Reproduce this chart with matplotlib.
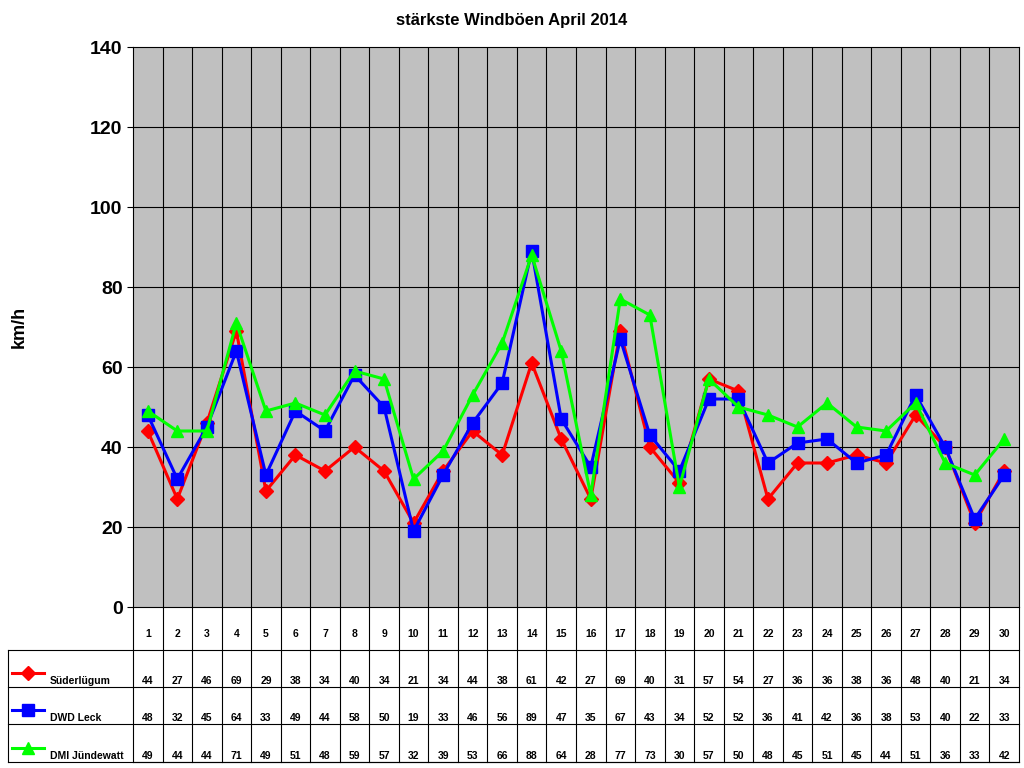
import matplotlib
matplotlib.use("Agg")
import matplotlib.pyplot as plt
import numpy as np
plt.rcParams['font.family'] = ['Liberation Sans', 'DejaVu Sans']

days = list(range(1, 31))
sued = [44,27,46,69,29,38,34,40,34,21,34,44,38,61,42,27,69,40,31,57,54,27,36,36,38,36,48,40,21,34]
leck = [48,32,45,64,33,49,44,58,50,19,33,46,56,89,47,35,67,43,34,52,52,36,41,42,36,38,53,40,22,33]
dmi  = [49,44,44,71,49,51,48,59,57,32,39,53,66,88,64,28,77,73,30,57,50,48,45,51,45,44,51,36,33,42]
series = [("Süderlügum", sued, "#FF0000", "D", 7),
          ("DWD Leck", leck, "#0000FF", "s", 8),
          ("DMI Jündewatt", dmi, "#00FF00", "^", 9)]

W, H = 1024, 768
fig = plt.figure(figsize=(W/100, H/100), dpi=100)
x0, x1, ytop, ybot = 133, 1019, 47, 607
ax = fig.add_axes([x0/W, 1-ybot/H, (x1-x0)/W, (ybot-ytop)/H])
ax.set_facecolor("#C0C0C0")
n = len(days)
ax.set_xlim(0.5, n+0.5)
ax.set_ylim(0, 140)
ax.set_yticks(range(0, 141, 20))
ax.tick_params(axis='y', labelsize=14, length=4)
for t in ax.get_yticklabels():
    t.set_fontweight('bold')
ax.set_xticks([])
for v in np.arange(1.5, n, 1):
    ax.axvline(v, color='black', lw=0.8, zorder=1)
for v in range(20, 140, 20):
    ax.axhline(v, color='black', lw=0.8, zorder=1)
for name, vals, c, m, ms in series:
    ax.plot(days, vals, color=c, marker=m, ms=ms, lw=2.2, zorder=3)
for s in ax.spines.values():
    s.set_color('black')
ax.set_ylabel("km/h", fontsize=13, fontweight='bold', labelpad=45)
fig.text(0.5, 1-20/H, "stärkste Windböen April 2014", ha='center', va='center',
         fontsize=12, fontweight='bold')

# data table
ov = fig.add_axes([0, 0, 1, 1])
ov.set_xlim(0, W); ov.set_ylim(H, 0); ov.axis('off')
rows = [607, 650, 687, 724, 762]
cw = (x1-x0)/n
for i in range(n+1):
    xx = x0 + i*cw
    ov.plot([xx, xx], [rows[0], rows[-1]], color='black', lw=0.8)
ov.plot([x0, x1], [rows[-1], rows[-1]], color='black', lw=0.8)
for r in rows[1:]:
    ov.plot([8, x1], [r, r], color='black', lw=0.8)
ov.plot([8, 8], [rows[1], rows[-1]], color='black', lw=0.8)
for i, d in enumerate(days):
    ov.text(x0 + (i+0.5)*cw, 634, str(d), ha='center', va='center', fontsize=7.5, fontweight='bold')
for k, (name, vals, c, m, ms) in enumerate(series):
    yy = rows[k+2] - 6
    ov.plot([12, 44], [yy-8, yy-8], color=c, lw=2.2)
    ov.plot([28], [yy-8], marker=m, color=c, ms=ms)
    ov.text(50, yy, name, ha='left', va='center', fontsize=7.5, fontweight='bold')
    for i, v in enumerate(vals):
        ov.text(x0 + (i+0.5)*cw, yy, str(v), ha='center', va='center', fontsize=7.5, fontweight='bold')

fig.savefig("out.png", dpi=100)
